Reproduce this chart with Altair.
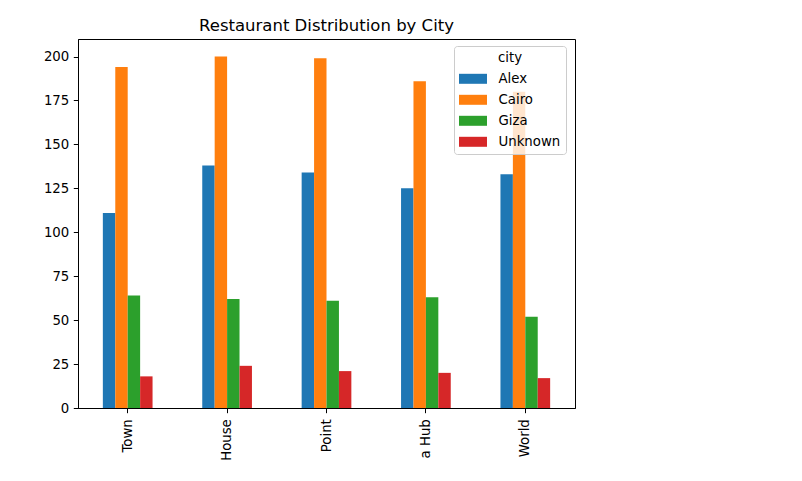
import altair as alt
import pandas as pd

restaurants = ["Town", "House", "Point", "a Hub", "World"]
cities = ["Alex", "Cairo", "Giza", "Unknown"]
alex = [111, 138, 134, 125, 133]
cairo = [194, 200, 199, 186, 180]
giza = [64, 62, 61, 63, 52]
unknown = [18, 24, 21, 20, 17]
colors = ["#1f77b4", "#ff7f0e", "#2ca02c", "#d62728"]
y_ticks = [0, 25, 50, 75, 100, 125, 150, 175, 200]

rows = []
for city, vals in zip(cities, [alex, cairo, giza, unknown]):
    for r, v in zip(restaurants, vals):
        rows.append({"restaurant": r, "city": city, "count": v})
df = pd.DataFrame(rows)

FONT = "DejaVu Sans"

axis_common = dict(
    labelFont=FONT, labelFontSize=13.3, labelColor="black",
    tickColor="black", tickSize=4.7, tickWidth=1,
    domainColor="black", domainWidth=1, grid=False,
)

chart = alt.Chart(df).mark_bar().encode(
    x=alt.X("restaurant:N", sort=restaurants, title="",
            scale=alt.Scale(paddingInner=0.5, paddingOuter=0.25),
            axis=alt.Axis(labelAngle=-90, bandPosition=0.5, labelPadding=6,
                          **axis_common)),
    xOffset=alt.XOffset("city:N", sort=cities,
                        scale=alt.Scale(paddingInner=0, paddingOuter=0)),
    y=alt.Y("count:Q", title="",
            scale=alt.Scale(domain=[0, 210], nice=False),
            axis=alt.Axis(values=y_ticks, labelPadding=4.5, **axis_common)),
    color=alt.Color("city:N", sort=cities,
                    scale=alt.Scale(domain=cities, range=colors),
                    legend=alt.Legend(
                        orient="none", legendX=376, legendY=7,
                        title="city", titleAnchor="middle",
                        titleFont=FONT, titleFontSize=13.3, titleFontWeight="normal",
                        titleColor="black", titlePadding=4,
                        labelFont=FONT, labelFontSize=13.3, labelColor="black",
                        symbolType="M-1.333,-0.476H1.333V0.476H-1.333Z",
                        symbolSize=441, symbolStrokeWidth=0, symbolOpacity=1,
                        symbolOffset=3.5, labelOffset=15, rowPadding=4,
                        padding=5, fillColor="rgba(255,255,255,0.8)",
                        strokeColor="#cccccc", cornerRadius=3,
                    )),
).properties(
    width=497,
    height=369,
    title=alt.TitleParams("Restaurant Distribution by City", font=FONT,
                          fontSize=16.5, fontWeight="normal", color="black",
                          offset=5, anchor="middle"),
    autosize=alt.AutoSizeParams(type="none"),
    padding={"left": 70, "top": 31, "right": 20, "bottom": 60},
    background="white",
).configure_view(stroke="black", strokeWidth=1)

chart.save("out.html", embed_options={"renderer": "svg", "actions": False})
